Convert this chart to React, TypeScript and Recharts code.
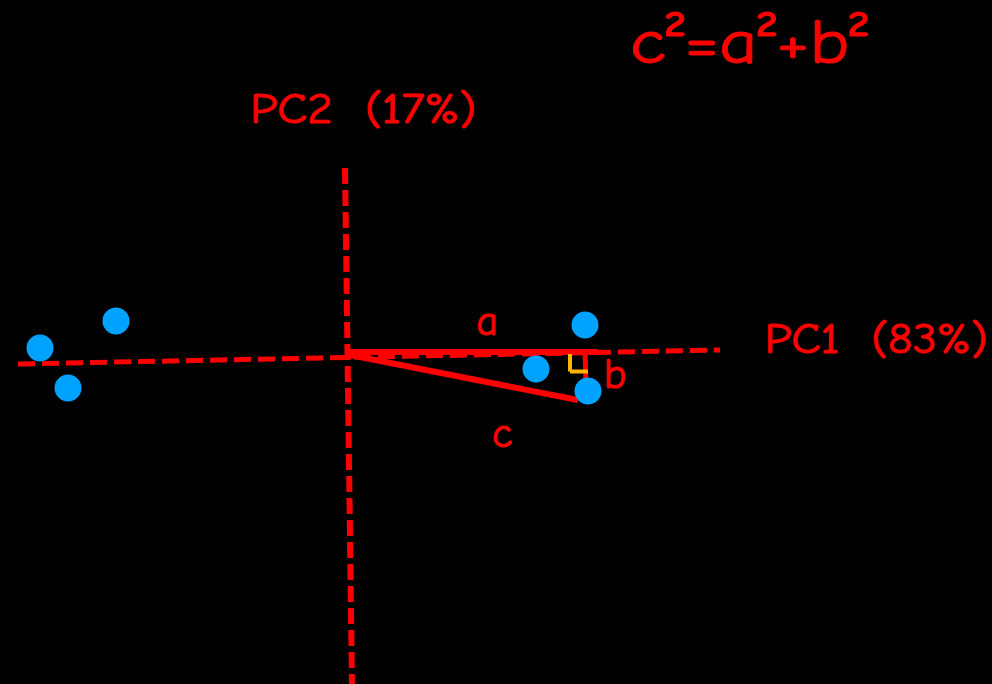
import React from "react";
import {
  ScatterChart, Scatter, XAxis, YAxis, ReferenceLine, ReferenceDot,
} from "recharts";

// scores on the two principal components
const pc1Scores = [-3.08, -2.32, -2.8, 2.37, 1.88, 2.4];
const pc2Scores = [0.07, 0.34, -0.33, 0.3, -0.14, -0.36];

// hand-drawn axes (slightly tilted), in PC units
const pc1Axis = [{ x: -3.3, y: -0.09 }, { x: 3.72, y: 0.05 }];
const pc2Axis = [{ x: -0.03, y: 1.87 }, { x: 0.04, y: -3.29 }];

// triangle a / b / c for the last point
const sideA = [{ x: 0.02, y: 0.03 }, { x: 2.5, y: 0.03 }];
const sideB = [{ x: 2.37, y: 0.03 }, { x: 2.38, y: -0.29 }];
const sideC = [{ x: 0.02, y: 0.0 }, { x: 2.3, y: -0.45 }];
const rightAngle = [{ x: 2.22, y: 0.01 }, { x: 2.22, y: -0.165 }, { x: 2.4, y: -0.165 }];

// text labels: text, x, baseline y
const labelTexts = ["a", "b", "c", "PC1\u00a0\u00a0(83%)", "PC2\u00a0\u00a0(17%)", "c\u00b2=a\u00b2+b\u00b2"];
const labelX = [1.39, 2.67, 1.54, 5.28, 0.15, 4.01];
const labelY = [0.2, -0.33, -0.92, 0.02, 2.32, 2.92];

const points = pc1Scores.map((x, i) => ({ x, y: pc2Scores[i] }));

const RED = "#ff0000";
const FONT = '"Comic Sans MS", "Comic Neue", "DejaVu Sans", sans-serif';

const labelStyle = [
  { size: 42 }, { size: 42 }, { size: 42 },
  { size: 42, len: 223 }, { size: 42, len: 226 }, { size: 62, len: 238 },
];

function Dot(props: any) {
  return <circle cx={props.cx} cy={props.cy} r={13.5} fill="#00a2ff" />;
}

function makeLabel(text: string, i: number) {
  const st = labelStyle[i];
  return (p: any) => {
    const vb = p.viewBox || {};
    const cx = vb.x + (vb.width || 0) / 2;
    const cy = vb.y + (vb.height || 0) / 2;
    return (
      <text
        x={cx}
        y={cy}
        textAnchor="middle"
        fill={RED}
        stroke={RED}
        strokeWidth={1}
        fontFamily={FONT}
        fontSize={st.size}
        textLength={st.len}
        lengthAdjust={st.len ? "spacingAndGlyphs" : undefined}
      >
        {text}
      </text>
    );
  };
}

export default function App() {
  return (
    <div style={{ position: "fixed", top: 0, left: 0, width: 992, height: 684, background: "#000" }}>
      <ScatterChart width={992} height={684} margin={{ top: 0, right: 0, bottom: 0, left: 0 }}>
        <XAxis type="number" dataKey="x" hide domain={[-3.48, 6.44]} allowDataOverflow />
        <YAxis type="number" dataKey="y" hide domain={[-3.29, 3.55]} allowDataOverflow />
        <ReferenceLine segment={pc1Axis} stroke={RED} strokeWidth={5} strokeDasharray="17 7" ifOverflow="visible" />
        <ReferenceLine segment={pc2Axis} stroke={RED} strokeWidth={6} strokeDasharray="16 6" ifOverflow="visible" />
        <ReferenceLine segment={sideA} stroke={RED} strokeWidth={6} ifOverflow="visible" />
        <ReferenceLine segment={sideB} stroke={RED} strokeWidth={5} ifOverflow="visible" />
        <ReferenceLine segment={[rightAngle[0], rightAngle[1]]} stroke="#ffb400" strokeWidth={4} ifOverflow="visible" />
        <ReferenceLine segment={[rightAngle[1], rightAngle[2]]} stroke="#ffb400" strokeWidth={4} ifOverflow="visible" />
        <Scatter data={points} shape={<Dot />} isAnimationActive={false} />
        <ReferenceLine segment={sideC} stroke={RED} strokeWidth={6} ifOverflow="visible" />
        {labelTexts.map((t, i) => (
          <ReferenceDot
            key={t}
            x={labelX[i]}
            y={labelY[i]}
            r={1}
            fillOpacity={0}
            strokeOpacity={0}
            ifOverflow="visible"
            label={{ content: makeLabel(t, i) } as any}
          />
        ))}
      </ScatterChart>
    </div>
  );
}
